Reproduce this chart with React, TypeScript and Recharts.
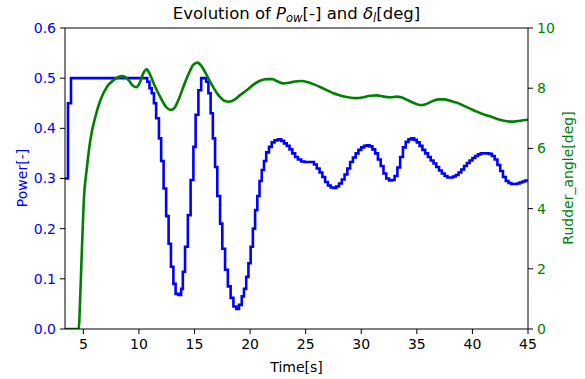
import React from "react";
import {
  ComposedChart,
  XAxis,
  YAxis,
  Line,
  ReferenceLine,
} from "recharts";

// power (blue, step) : time [s] / value [-]
const powerTime = [
  3.35, 3.62, 3.89, 10.75, 10.95, 11.15, 11.35, 11.55, 11.8, 12.0, 12.22, 12.45,
  12.67, 12.88, 13.1, 13.3, 13.55, 13.8, 13.95, 14.15, 14.4, 14.65, 14.9, 15.1,
  15.35, 15.6, 16.05, 16.25, 16.45, 16.65, 16.85, 17.05, 17.3, 17.5, 17.75, 18.0,
  18.25, 18.5, 18.75, 19.0, 19.25, 19.45, 19.65, 19.85, 20.05, 20.25, 20.45,
  20.65, 20.85, 21.05, 21.25, 21.45, 21.7, 21.95, 22.2, 22.5, 22.8, 23.05, 23.3,
  23.55, 23.8, 24.05, 24.3, 24.6, 24.9, 25.2, 25.5, 25.75, 26.0, 26.25, 26.5,
  26.75, 27.0, 27.25, 27.5, 27.75, 28.0, 28.25, 28.5, 28.75, 29.0, 29.25, 29.5,
  29.75, 30.0, 30.25, 30.5, 30.75, 31.0, 31.25, 31.5, 31.75, 32.0, 32.25, 32.5,
  32.75, 33.0, 33.25, 33.5, 33.75, 34.0, 34.25, 34.5, 34.75, 35.0, 35.25, 35.5,
  35.75, 36.0, 36.25, 36.5, 36.75, 37.0, 37.25, 37.5, 37.75, 38.0, 38.25, 38.5,
  38.75, 39.0, 39.25, 39.5, 39.75, 40.0, 40.25, 40.5, 40.75, 41.0, 41.25, 41.5,
  41.75, 42.0, 42.25, 42.5, 42.75, 43.0, 43.25, 43.5, 43.75, 44.0, 44.25, 44.5,
  44.75, 45.0,
];
const powerValue = [
  0.3, 0.45, 0.5, 0.493, 0.48, 0.47, 0.45, 0.42, 0.38, 0.335, 0.28, 0.225,
  0.17, 0.124, 0.09, 0.07, 0.068, 0.08, 0.114, 0.164, 0.227, 0.297, 0.363, 0.427,
  0.476, 0.5, 0.493, 0.47, 0.43, 0.38, 0.323, 0.265, 0.21, 0.16, 0.118, 0.085,
  0.062, 0.045, 0.04, 0.048, 0.065, 0.08, 0.104, 0.131, 0.164, 0.2, 0.237,
  0.265, 0.295, 0.317, 0.335, 0.352, 0.363, 0.372, 0.376, 0.378, 0.375, 0.37, 0.365,
  0.358, 0.35, 0.343, 0.338, 0.334, 0.333, 0.333, 0.333, 0.328, 0.32, 0.312, 0.303,
  0.293, 0.286, 0.282, 0.281, 0.284, 0.29, 0.298, 0.308, 0.32, 0.333, 0.342, 0.35,
  0.357, 0.362, 0.365, 0.366, 0.364, 0.358, 0.35, 0.338, 0.325, 0.31, 0.3, 0.296,
  0.297, 0.305, 0.322, 0.343, 0.362, 0.373, 0.378, 0.38, 0.377, 0.372, 0.365, 0.357,
  0.35, 0.343, 0.336, 0.33, 0.323, 0.316, 0.31, 0.305, 0.302, 0.302, 0.304, 0.307,
  0.312, 0.318, 0.325, 0.331, 0.336, 0.341, 0.345, 0.348, 0.35, 0.35, 0.35, 0.349,
  0.345, 0.338, 0.327, 0.315, 0.303, 0.295, 0.291, 0.289, 0.289, 0.29, 0.292, 0.294,
  0.296, 0.298,
];

// rudder angle (green) : time [s] / value [deg]
const rudderTime = [
  3.35, 4.58, 4.73, 4.88, 5.03, 5.33, 5.63, 6.08, 6.53, 7.13, 7.73, 8.48, 9.07,
  9.4, 9.75, 10.1, 10.4, 10.7, 11.0, 11.4, 11.9, 12.4, 12.85, 13.2, 13.6, 14.0,
  14.5, 14.9, 15.25, 15.6, 16.0, 16.4, 16.9, 17.3, 17.7, 18.1, 18.6, 19.1, 19.7,
  20.3, 20.9, 21.5, 22.0, 22.5, 23.0, 23.5, 24.0, 24.6, 25.2, 25.8, 26.3, 27.0,
  27.5, 28.1, 28.8, 29.5, 30.2, 30.8, 31.4, 32.0, 32.6, 33.2, 33.6, 34.2, 34.8,
  35.3, 35.8, 36.4, 37.0, 37.5, 38.0, 38.6, 39.2, 39.8, 40.4, 41.0, 41.7, 42.4,
  43.1, 43.7, 44.3, 45.0,
];
const rudderValue = [
  0, 0, 1.18, 2.74, 4.18, 5.39, 6.28, 7.05, 7.6, 8.05, 8.27, 8.4, 8.27,
  8.1, 8.03, 8.2, 8.5, 8.63, 8.45, 8.1, 7.72, 7.4, 7.28, 7.35, 7.65, 8.05,
  8.5, 8.78, 8.85, 8.75, 8.5, 8.22, 7.9, 7.7, 7.58, 7.55, 7.62, 7.77, 7.93,
  8.12, 8.25, 8.3, 8.3, 8.22, 8.16, 8.18, 8.22, 8.24, 8.2, 8.12, 8.04, 7.92,
  7.83, 7.76, 7.7, 7.67, 7.7, 7.75, 7.76, 7.72, 7.7, 7.72, 7.7, 7.6, 7.5,
  7.44, 7.47, 7.57, 7.63, 7.63, 7.58, 7.52, 7.42, 7.32, 7.22, 7.13, 7.05, 6.96,
  6.9, 6.89, 6.92, 6.95,
];

const timeTicks = [5, 10, 15, 20, 25, 30, 35, 40, 45];
const powerTicks = [0, 0.1, 0.2, 0.3, 0.4, 0.5, 0.6];
const rudderTicks = [0, 2, 4, 6, 8, 10];

const BLUE = "#0000ff";
const GREEN = "#008000";
const FONT = "DejaVu Sans";

const powerData = powerTime.map((t, i) => ({ t, p: powerValue[i] }));
const rudderData = rudderTime.map((t, i) => ({ t, r: rudderValue[i] }));

export default function App() {
  const txt: React.CSSProperties = {
    position: "absolute",
    fontFamily: FONT,
    fontSize: 14,
    whiteSpace: "nowrap",
    lineHeight: 1,
  };
  const sub: React.CSSProperties = {
    fontSize: "0.7em",
    verticalAlign: "-0.25em",
    lineHeight: 0,
    fontStyle: "italic",
  };

  return (
    <div style={{ position: "relative", width: 585, height: 379, background: "#fff" }}>
      <style>{"body{margin:0}"}</style>
      <ComposedChart
        width={585}
        height={379}
        margin={{ top: 28, right: 17, left: 15, bottom: 20 }}
      >
        <XAxis
          dataKey="t"
          type="number"
          domain={[3.35, 45]}
          ticks={timeTicks}
          allowDataOverflow
          height={30}
          tickSize={5}
          tickMargin={5}
          axisLine={{ stroke: "#000" }}
          tickLine={{ stroke: "#000" }}
          tick={{ fill: "#000", fontSize: 14, fontFamily: FONT }}
        />
        <YAxis
          yAxisId="left"
          domain={[0, 0.6]}
          ticks={powerTicks}
          width={50}
          tickSize={5}
          tickMargin={4}
          allowDataOverflow
          tickFormatter={(v: number) => v.toFixed(1)}
          axisLine={{ stroke: "#000" }}
          tickLine={{ stroke: "#000" }}
          tick={{ fill: BLUE, fontSize: 14, fontFamily: FONT }}
        />
        <YAxis
          yAxisId="right"
          orientation="right"
          domain={[0, 10]}
          ticks={rudderTicks}
          width={40}
          tickSize={5}
          tickMargin={4}
          allowDataOverflow
          axisLine={{ stroke: "#000" }}
          tickLine={{ stroke: "#000" }}
          tick={{ fill: GREEN, fontSize: 14, fontFamily: FONT }}
        />
        <ReferenceLine yAxisId="left" y={0.6} stroke="#000" />
        <Line
          yAxisId="left"
          data={powerData}
          dataKey="p"
          type="stepAfter"
          stroke={BLUE}
          strokeWidth={2.6}
          dot={false}
          isAnimationActive={false}
        />
        <Line
          yAxisId="right"
          data={rudderData}
          dataKey="r"
          type="monotone"
          stroke={GREEN}
          strokeWidth={2.6}
          dot={false}
          isAnimationActive={false}
        />
      </ComposedChart>

      <div style={{ ...txt, fontSize: 16.5, left: 296.5, top: 6, transform: "translateX(-50%)" }}>
        Evolution of <i>P</i>
        <span style={sub}>ow</span>[-] and <i>δ</i>
        <span style={sub}>l</span>[deg]
      </div>
      <div style={{ ...txt, left: 296.5, top: 360, transform: "translateX(-50%)" }}>Time[s]</div>
      <div
        style={{
          ...txt,
          color: BLUE,
          left: 22,
          top: 178,
          transform: "translate(-50%, -50%) rotate(-90deg)",
        }}
      >
        Power[-]
      </div>
      <div
        style={{
          ...txt,
          color: GREEN,
          left: 568,
          top: 178,
          transform: "translate(-50%, -50%) rotate(-90deg)",
        }}
      >
        Rudder_angle[deg]
      </div>
    </div>
  );
}
